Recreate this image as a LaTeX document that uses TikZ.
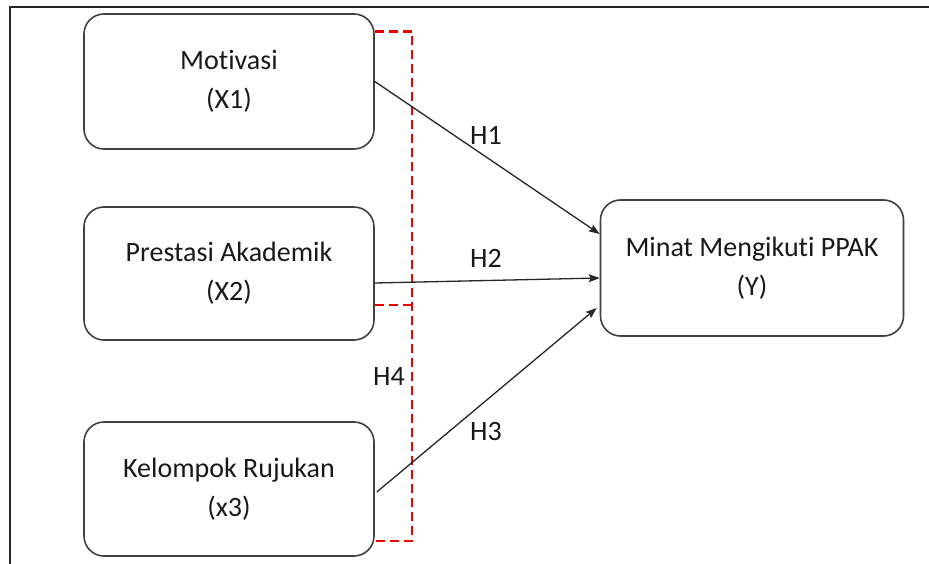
\documentclass[tikz,border=0pt]{standalone}
\usepackage{fontspec}
\setmainfont{Carlito}[Ligatures=NoCommon]
\usetikzlibrary{arrows.meta,calc}
\begin{document}
\begin{tikzpicture}[x=1pt,y=-1pt,
  varbox/.style={draw=black!75,line width=1.6pt,rounded corners=20pt,align=center,
    font=\fontsize{28}{39}\selectfont,text=black!90,inner sep=0pt},
  hyp/.style={draw=black!85,line width=1.3pt,-{Stealth[length=11pt,width=8pt,inset=2pt]}},
  hlabel/.style={font=\fontsize{28}{32}\selectfont,text=black!90},
  reddash/.style={draw=red!95!black,line width=2.8pt,dash pattern=on 9pt off 5pt}]
\useasboundingbox (0,0) rectangle (929,564);
\fill[white] (0,0) rectangle (929,564);
\draw[line width=1.6pt,black!85] (10,564) -- (10,7) -- (929,7);

\node[varbox,minimum width=290pt,minimum height=135pt] (X1) at (229,81.5) {Motivasi\\(X1)};
\node[varbox,minimum width=290pt,minimum height=133pt] (X2) at (229,273.5) {Prestasi Akademik\\(X2)};
\node[varbox,minimum width=290pt,minimum height=134pt] (X3) at (229,489) {Kelompok Rujukan\\(x3)};
\node[varbox,minimum width=303pt,minimum height=136pt] (Y) at (752,268) {Minat Mengikuti PPAK\\(Y)};

\coordinate (rt) at (412,31.6);
\coordinate (rm) at (412,305);
\coordinate (rb) at (412,541);
\draw[reddash] (X1.east |- rt) -- (rt) -- (rb) -- ([xshift=-4pt]X3.east |- rb);
\draw[reddash] (X2.east |- rm) -- (rm);

\draw[hyp] (X1.east) -- ([yshift=34pt]Y.west);
\draw[hyp] ([yshift=-9.5pt]X2.east) -- ([yshift=-10pt]Y.west);
\draw[hyp] ([xshift=2pt,yshift=-3pt]X3.east) -- ([xshift=-3pt,yshift=-40pt]Y.west);

\node[hlabel] (h1) at (486,135) {H1};
\node[hlabel] (h2) at (486,258) {H2};
\node[hlabel] (h3) at (486,432) {H3};
\node[hlabel] (h4) at (389,377) {H4};
\end{tikzpicture}
\end{document}
